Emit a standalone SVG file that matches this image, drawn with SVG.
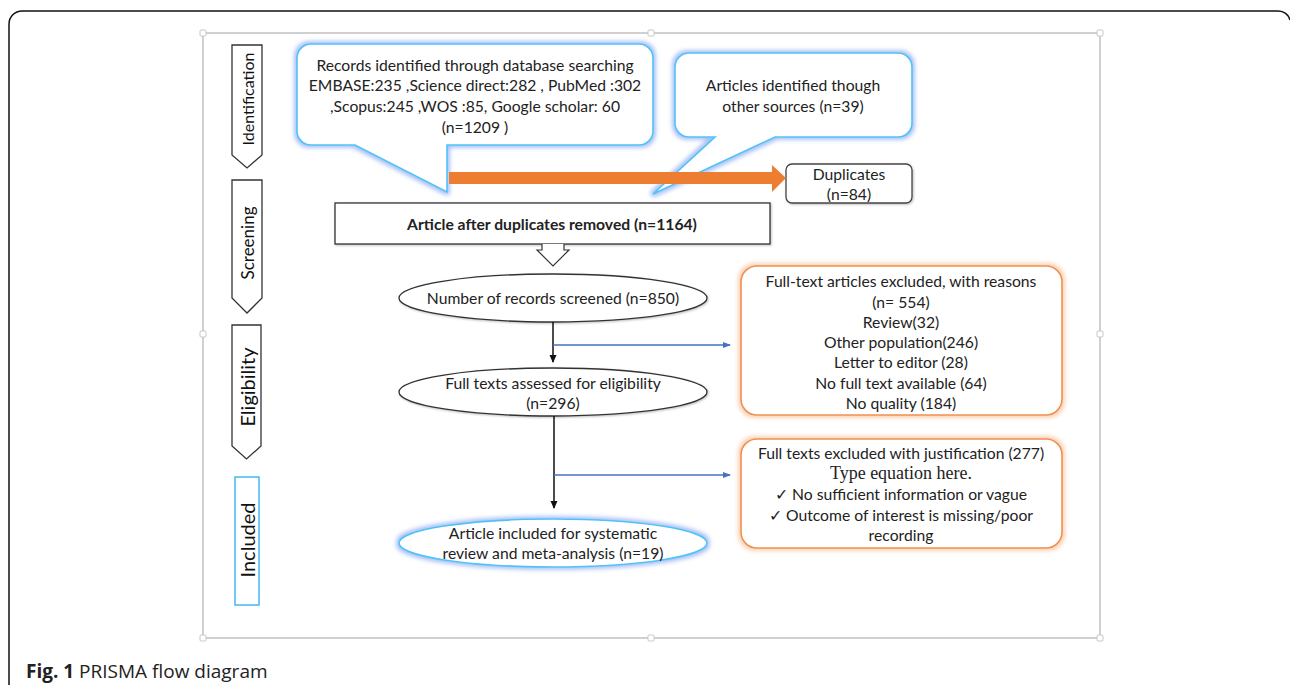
<svg xmlns="http://www.w3.org/2000/svg" width="1290" height="685" viewBox="0 0 1290 685">
<style>
  .t{font-family:Lato,"Liberation Sans",sans-serif;font-size:15.7px;fill:#222;text-anchor:middle;dominant-baseline:central}
  .stage{fill:#fff;stroke:#333;stroke-width:1.3}
  .lbl{font-family:Lato,"Liberation Sans",sans-serif;fill:#111;text-anchor:middle;dominant-baseline:central}
  .callout{fill:#fff;stroke:#4FC3F7;stroke-width:1.6}
  .orangebox{fill:#fff;stroke:#F0904F;stroke-width:1.6}
  .ell{fill:#fff;stroke:#333;stroke-width:1.3}
  .handle{fill:#fff;stroke:#c8c8c8;stroke-width:1}
</style>
<defs>
  <filter id="glowBlue" x="-10%" y="-20%" width="120%" height="140%">
    <feMorphology in="SourceAlpha" operator="dilate" radius="1.5" result="d"/>
    <feGaussianBlur in="d" stdDeviation="2" result="b"/>
    <feFlood flood-color="#9DB8F5" flood-opacity="0.9"/>
    <feComposite in2="b" operator="in" result="g"/>
    <feMerge><feMergeNode in="g"/><feMergeNode in="SourceGraphic"/></feMerge>
  </filter>
  <filter id="glowOrange" x="-10%" y="-20%" width="120%" height="140%">
    <feMorphology in="SourceAlpha" operator="dilate" radius="1.5" result="d"/>
    <feGaussianBlur in="d" stdDeviation="2" result="b"/>
    <feFlood flood-color="#F9C9A6" flood-opacity="0.9"/>
    <feComposite in2="b" operator="in" result="g"/>
    <feMerge><feMergeNode in="g"/><feMergeNode in="SourceGraphic"/></feMerge>
  </filter>
  <filter id="shadow" x="-5%" y="-20%" width="110%" height="140%">
    <feGaussianBlur in="SourceAlpha" stdDeviation="1.2" result="b"/>
    <feOffset dx="0.5" dy="1" result="o"/>
    <feFlood flood-color="#000" flood-opacity="0.25"/>
    <feComposite in2="o" operator="in" result="s"/>
    <feMerge><feMergeNode in="s"/><feMergeNode in="SourceGraphic"/></feMerge>
  </filter>
  <marker id="arrBlack" markerWidth="8" markerHeight="8" refX="7" refY="4" orient="auto" markerUnits="userSpaceOnUse">
    <path d="M0,0.5 L8,4 L0,7.5 Z" fill="#111"/>
  </marker>
  <marker id="arrBlue" markerWidth="8" markerHeight="8" refX="7" refY="4" orient="auto" markerUnits="userSpaceOnUse">
    <path d="M0,1 L8,4 L0,7 Z" fill="#4472C4"/>
  </marker>
</defs>
<rect width="1290" height="685" fill="#fff"/>
<!-- outer frame -->
<path d="M9,690 V24 A13,13 0 0 1 22,11 H1278 A12,12 0 0 1 1290,20" fill="none" stroke="#111" stroke-width="1.5"/>
<!-- inner selection frame -->
<g id="frame">
  <rect x="203" y="33" width="897" height="605" fill="none" stroke="#d0d0d0" stroke-width="2"/>
  <rect class="handle" x="200" y="30" width="6" height="6" rx="1"/>
  <rect class="handle" x="648" y="30" width="6" height="6" rx="1"/>
  <rect class="handle" x="1097" y="30" width="6" height="6" rx="1"/>
  <rect class="handle" x="200" y="331" width="6" height="6" rx="1"/>
  <rect class="handle" x="1097" y="331" width="6" height="6" rx="1"/>
  <rect class="handle" x="200" y="635" width="6" height="6" rx="1"/>
  <rect class="handle" x="648" y="635" width="6" height="6" rx="1"/>
  <rect class="handle" x="1097" y="635" width="6" height="6" rx="1"/>
</g>
<!-- stages -->
<g id="stage-identification">
  <path class="stage" d="M232,45 H262 V155 L247,168 L232,155 Z"/>
  <text class="lbl" font-size="16" transform="translate(247,99) rotate(-90)">Identification</text>
</g>
<g id="stage-screening">
  <path class="stage" d="M232,180 H262 V298 L247,313 L232,298 Z"/>
  <text class="lbl" font-size="17" transform="translate(247,243) rotate(-90)">Screening</text>
</g>
<g id="stage-eligibility">
  <path class="stage" d="M232,325 H261 V446 L246.5,459 L232,446 Z"/>
  <text class="lbl" font-size="20" transform="translate(247,387) rotate(-90)">Eligibility</text>
</g>
<g id="stage-included">
  <rect x="235" y="477" width="24" height="128" fill="#fff" stroke="#45B8F2" stroke-width="1.5"/>
  <text class="lbl" font-size="20" transform="translate(247,540) rotate(-90)">Included</text>
</g>
<!-- nodes -->
<g id="records-db">
  <path class="callout" filter="url(#glowBlue)" d="M311,44 H639 A14,14 0 0 1 653,58 V131 A14,14 0 0 1 639,145 H447 V192 L355,145 H311 A14,14 0 0 1 297,131 V58 A14,14 0 0 1 311,44 Z"/>
  <text class="t" x="475" y="65">Records identified through database searching</text>
  <text class="t" x="475" y="85">EMBASE:235 ,Science direct:282 , PubMed :302</text>
  <text class="t" x="475" y="106">,Scopus:245 ,WOS :85, Google scholar: 60</text>
  <text class="t" x="475" y="127">(n=1209 )</text>
</g>
<g id="records-other">
  <path class="callout" filter="url(#glowBlue)" d="M689,53 H898 A14,14 0 0 1 912,67 V123 A14,14 0 0 1 898,137 H775 L653,194 L715,137 H689 A14,14 0 0 1 675,123 V67 A14,14 0 0 1 689,53 Z"/>
  <text class="t" x="793" y="85">Articles identified though</text>
  <text class="t" x="793" y="106">other sources (n=39)</text>
</g>
<g id="duplicates">
  <rect x="786" y="164" width="126" height="39" rx="6" fill="#fff" stroke="#444" stroke-width="1.3" filter="url(#shadow)"/>
  <text class="t" x="849" y="174">Duplicates</text>
  <text class="t" x="849" y="194">(n=84)</text>
</g>
<g id="after-duplicates">
  <rect x="335" y="203" width="435" height="41" fill="#fff" stroke="#333" stroke-width="1.3" filter="url(#shadow)"/>
  <text class="t" x="552" y="224" style="font-weight:bold">Article after duplicates removed (n=1164)</text>
</g>
<g id="screened">
  <ellipse class="ell" cx="553" cy="298" rx="154" ry="24" filter="url(#shadow)"/>
  <text class="t" x="553" y="298">Number of records screened (n=850)</text>
</g>
<g id="eligibility">
  <ellipse class="ell" cx="553" cy="392" rx="154" ry="24" filter="url(#shadow)"/>
  <text class="t" x="553" y="383">Full texts assessed for eligibility</text>
  <text class="t" x="553" y="403">(n=296)</text>
</g>
<g id="included">
  <ellipse cx="553" cy="543" rx="154" ry="24" fill="#fff" stroke="#4FC3F7" stroke-width="1.6" filter="url(#glowBlue)"/>
  <text class="t" x="553" y="533">Article included for systematic</text>
  <text class="t" x="553" y="553">review and meta-analysis (n=19)</text>
</g>
<g id="excluded-reasons">
  <rect class="orangebox" filter="url(#glowOrange)" x="741" y="266" width="321" height="149" rx="16"/>
  <text class="t" x="901" y="281">Full-text articles excluded, with reasons</text>
  <text class="t" x="901" y="302">(n= 554)</text>
  <text class="t" x="901" y="322">Review(32)</text>
  <text class="t" x="901" y="342">Other population(246)</text>
  <text class="t" x="901" y="362">Letter to editor (28)</text>
  <text class="t" x="901" y="383">No full text available (64)</text>
  <text class="t" x="901" y="403">No quality (184)</text>
</g>
<g id="excluded-justification">
  <rect class="orangebox" filter="url(#glowOrange)" x="741" y="439" width="321" height="109" rx="16"/>
  <text class="t" x="901" y="453">Full texts excluded with justification (277)</text>
  <text class="t" x="901" y="473" style="font-family:'Liberation Serif','DejaVu Serif',serif;font-size:18px">Type equation here.</text>
  <text class="t" x="901" y="494">✓ No sufficient information or vague</text>
  <text class="t" x="901" y="515">✓ Outcome of interest is missing/poor</text>
  <text class="t" x="901" y="535">recording</text>
</g>
<!-- connectors -->
<g id="connectors">
  <path d="M449,172 H772 V165 L786,178 L772,192 V184 H449 Z" fill="#ED7D31"/>
  <path d="M542,244 V250 H537 L553,266 L569,250 H564 V244" fill="#fff" stroke="#333" stroke-width="1.2"/>
  <line x1="553" y1="322" x2="553" y2="362" stroke="#111" stroke-width="1.5" marker-end="url(#arrBlack)"/>
  <line x1="553" y1="345" x2="730" y2="345" stroke="#4472C4" stroke-width="1.3" marker-end="url(#arrBlue)"/>
  <line x1="554" y1="416" x2="554" y2="508" stroke="#111" stroke-width="1.5" marker-end="url(#arrBlack)"/>
  <line x1="554" y1="475" x2="730" y2="475" stroke="#4472C4" stroke-width="1.3" marker-end="url(#arrBlue)"/>
</g>
<!-- caption -->
<text x="26" y="678" style="font-family:'Open Sans','Liberation Sans',sans-serif;font-size:19px;fill:#222"><tspan font-weight="bold">Fig. 1</tspan> PRISMA flow diagram</text>
</svg>
